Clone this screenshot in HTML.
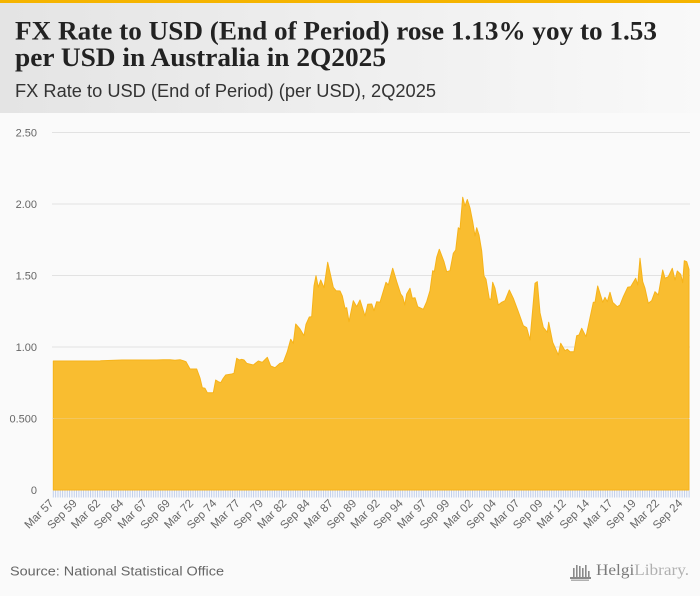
<!DOCTYPE html>
<html>
<head>
<meta charset="utf-8">
<style>
html,body{margin:0;padding:0;background:#fafafa;}
body{width:700px;height:596px;overflow:hidden;position:relative;}
svg{display:block;}
</style>
</head>
<body>
<svg width="700" height="596" viewBox="0 0 700 596" xmlns="http://www.w3.org/2000/svg">
  <defs>
    <linearGradient id="hdr" x1="0" y1="0" x2="1" y2="0">
      <stop offset="0" stop-color="#e4e4e4"/>
      <stop offset="1" stop-color="#f9f9f9"/>
    </linearGradient>
    <pattern id="tk" x="52.8" y="0" width="2.329" height="20" patternUnits="userSpaceOnUse">
      <rect x="0" y="0" width="1" height="20" fill="#bfcdea"/>
    </pattern>
  </defs>
  <rect x="0" y="0" width="700" height="596" fill="#fafafa"/>
  <rect x="0" y="0" width="700" height="113" fill="url(#hdr)"/>
  <rect x="0" y="0" width="700" height="3" fill="#f5b400"/>

  <text x="15" y="39.5" font-family="Liberation Serif, serif" font-weight="bold" font-size="26" fill="#222" textLength="642" lengthAdjust="spacingAndGlyphs">FX Rate to USD (End of Period) rose 1.13% yoy to 1.53</text>
  <text x="15" y="66" font-family="Liberation Serif, serif" font-weight="bold" font-size="26" fill="#222" textLength="371" lengthAdjust="spacingAndGlyphs">per USD in Australia in 2Q2025</text>
  <text x="15" y="97" font-family="Liberation Sans, sans-serif" font-size="18" fill="#333" textLength="421" lengthAdjust="spacingAndGlyphs">FX Rate to USD (End of Period) (per USD), 2Q2025</text>

  <!-- grid -->
  <g stroke="#e2e2e2" stroke-width="1">
    <line x1="52" y1="132.5" x2="690" y2="132.5"/>
    <line x1="52" y1="204" x2="690" y2="204"/>
    <line x1="52" y1="275.5" x2="690" y2="275.5"/>
    <line x1="52" y1="347" x2="690" y2="347"/>
  </g>

  <!-- area -->
  <path fill="#f9bd30" stroke="#f6b31a" stroke-width="1" stroke-linejoin="round" d="M53.3,490 L53.3,361 L100,361 L101,360.7 L121.7,360 L156.7,360 L163,359.7 L170,359.7 L175,360.3 L180,359.7 L183.3,360.7 L186,361.7 L190,369 L196.7,369 L200,378 L202.3,387.7 L205,388.3 L207.3,392.7 L213.3,392.7 L215.7,380 L218.3,381.7 L220.7,382.7 L223.3,378.3 L225.7,375 L231.7,374 L234,373.3 L236.7,358.3 L239.3,360 L241.7,359.3 L244,360 L246.7,363.3 L253.3,365 L258.3,361 L262.3,362.3 L267.3,357.3 L270.7,366 L275,367.7 L280,363.3 L283.3,362.3 L287.3,351.7 L290.7,339.3 L293.3,343.3 L295.7,324 L300,329 L304,335.7 L306,324.3 L309.3,317 L311.7,316.7 L314,286 L316,275.7 L318.3,287.3 L320.7,280 L324,287.7 L327.7,262.3 L333.3,287.3 L336,290.7 L340,291 L342.3,296 L345,308.3 L346.7,307.7 L349,321.7 L353.3,300.7 L356.7,306.7 L360,300 L365,316 L367.7,304.3 L371.7,304 L374,310.7 L376.7,301.7 L380,302.3 L386,282.3 L388.3,285 L392.7,268.3 L396.7,281.7 L400.7,294 L402.7,296.7 L404.7,305 L406.7,294 L410,288.3 L412.3,298.3 L415,297.7 L417.7,306.7 L423.3,309.3 L426.7,301.7 L430,290.7 L432.7,270.7 L434.3,271.7 L436.7,257.3 L439.3,249.3 L444,261.7 L446.7,271.7 L450,270.7 L453.3,253.3 L455.7,250 L458.3,227.7 L460,229.3 L462.7,197.3 L465,206 L467.3,199.5 L470,208 L472.7,221.7 L475,236 L476.7,227.7 L479,235 L481.7,251 L484,276 L486,279.3 L489.3,299 L491,299.3 L492.7,282.3 L495,288.3 L498.3,305 L501.7,302.3 L505,300.7 L509.3,290 L513.3,298.3 L518.3,311.7 L523.3,325.7 L526.7,327.7 L530,340 L535,283.3 L537.3,281.7 L540,312.7 L543.3,327.3 L547.3,332.3 L548.7,322.3 L552.7,342.3 L558.3,355 L560.7,343.3 L565,350.7 L567.3,349.3 L570,351.7 L574,351.7 L576.7,335.7 L579,335 L581.7,328.3 L586,336.7 L593.3,302.3 L595,302.3 L597.7,286 L602.7,302.3 L605,297.3 L607.3,301.7 L610,292.3 L612.7,302.3 L617.3,306.7 L620,305 L623.3,296.7 L627.7,287.3 L630.7,286.7 L635.7,278.3 L637.7,285 L640,258.3 L642.7,281.7 L645,288.3 L648.3,303.3 L651.7,300.7 L655,291.7 L658.3,295 L662.7,270 L665,278.3 L668.3,276.7 L672.3,268.3 L675,280 L677.3,271 L680.7,274.3 L682.7,282.7 L684.3,260.7 L686.7,261.7 L689,269.3 L689,490 Z"/>

  <!-- faint grid visible through area -->
  <line x1="52" y1="418.5" x2="690" y2="418.5" stroke="#e2e2e2" stroke-width="1" opacity="0.25"/>
  <line x1="52" y1="418.5" x2="53.3" y2="418.5" stroke="#e2e2e2" stroke-width="1"/>
  <line x1="689" y1="418.5" x2="690" y2="418.5" stroke="#e2e2e2" stroke-width="1"/>

  <!-- ticks -->
  <rect x="52" y="490.5" width="638" height="7" fill="url(#tk)"/>

  <!-- y labels -->
  <g font-family="Liberation Sans, sans-serif" font-size="11" fill="#666" text-anchor="end">
    <text x="37" y="136.5">2.50</text>
    <text x="37" y="208">2.00</text>
    <text x="37" y="279.5">1.50</text>
    <text x="37" y="351">1.00</text>
    <text x="37" y="422.5">0.500</text>
    <text x="37" y="494">0</text>
  </g>

  <!-- x labels -->
  <g font-family="Liberation Sans, sans-serif" font-size="11.5" fill="#666" text-anchor="end">
    <text transform="translate(54.3,504) rotate(-45)">Mar 57</text>
    <text transform="translate(77.6,504) rotate(-45)">Sep 59</text>
    <text transform="translate(100.9,504) rotate(-45)">Mar 62</text>
    <text transform="translate(124.2,504) rotate(-45)">Sep 64</text>
    <text transform="translate(147.5,504) rotate(-45)">Mar 67</text>
    <text transform="translate(170.8,504) rotate(-45)">Sep 69</text>
    <text transform="translate(194.0,504) rotate(-45)">Mar 72</text>
    <text transform="translate(217.3,504) rotate(-45)">Sep 74</text>
    <text transform="translate(240.6,504) rotate(-45)">Mar 77</text>
    <text transform="translate(263.9,504) rotate(-45)">Sep 79</text>
    <text transform="translate(287.2,504) rotate(-45)">Mar 82</text>
    <text transform="translate(310.5,504) rotate(-45)">Sep 84</text>
    <text transform="translate(333.8,504) rotate(-45)">Mar 87</text>
    <text transform="translate(357.1,504) rotate(-45)">Sep 89</text>
    <text transform="translate(380.4,504) rotate(-45)">Mar 92</text>
    <text transform="translate(403.7,504) rotate(-45)">Sep 94</text>
    <text transform="translate(427.0,504) rotate(-45)">Mar 97</text>
    <text transform="translate(450.2,504) rotate(-45)">Sep 99</text>
    <text transform="translate(473.5,504) rotate(-45)">Mar 02</text>
    <text transform="translate(496.8,504) rotate(-45)">Sep 04</text>
    <text transform="translate(520.1,504) rotate(-45)">Mar 07</text>
    <text transform="translate(543.4,504) rotate(-45)">Sep 09</text>
    <text transform="translate(566.7,504) rotate(-45)">Mar 12</text>
    <text transform="translate(590.0,504) rotate(-45)">Sep 14</text>
    <text transform="translate(613.3,504) rotate(-45)">Mar 17</text>
    <text transform="translate(636.6,504) rotate(-45)">Sep 19</text>
    <text transform="translate(659.9,504) rotate(-45)">Mar 22</text>
    <text transform="translate(683.1,504) rotate(-45)">Sep 24</text>
  </g>

  <!-- footer -->
  <text x="10" y="575.5" font-family="Liberation Sans, sans-serif" font-size="13" fill="#666" textLength="214" lengthAdjust="spacingAndGlyphs">Source: National Statistical Office</text>

  <!-- logo -->
  <g fill="#8a8a8a">
    <rect x="573" y="568" width="1.6" height="9"/>
    <rect x="576" y="565" width="1.6" height="12"/>
    <rect x="579" y="566" width="1.6" height="11"/>
    <rect x="582" y="568" width="1.6" height="9"/>
    <rect x="585" y="565" width="1.6" height="12"/>
    <rect x="570" y="577" width="21" height="2"/>
    <rect x="571" y="579.5" width="18" height="1.5" fill="#b0b0b0"/>
    <rect x="588" y="571" width="1.6" height="6"/>
  </g>
  <text x="596" y="575" font-family="Liberation Serif, serif" font-size="16" textLength="93" lengthAdjust="spacingAndGlyphs"><tspan fill="#7a7a7a">Helgi</tspan><tspan fill="#b0b0b0">Library.</tspan></text>
</svg>
</body>
</html>
